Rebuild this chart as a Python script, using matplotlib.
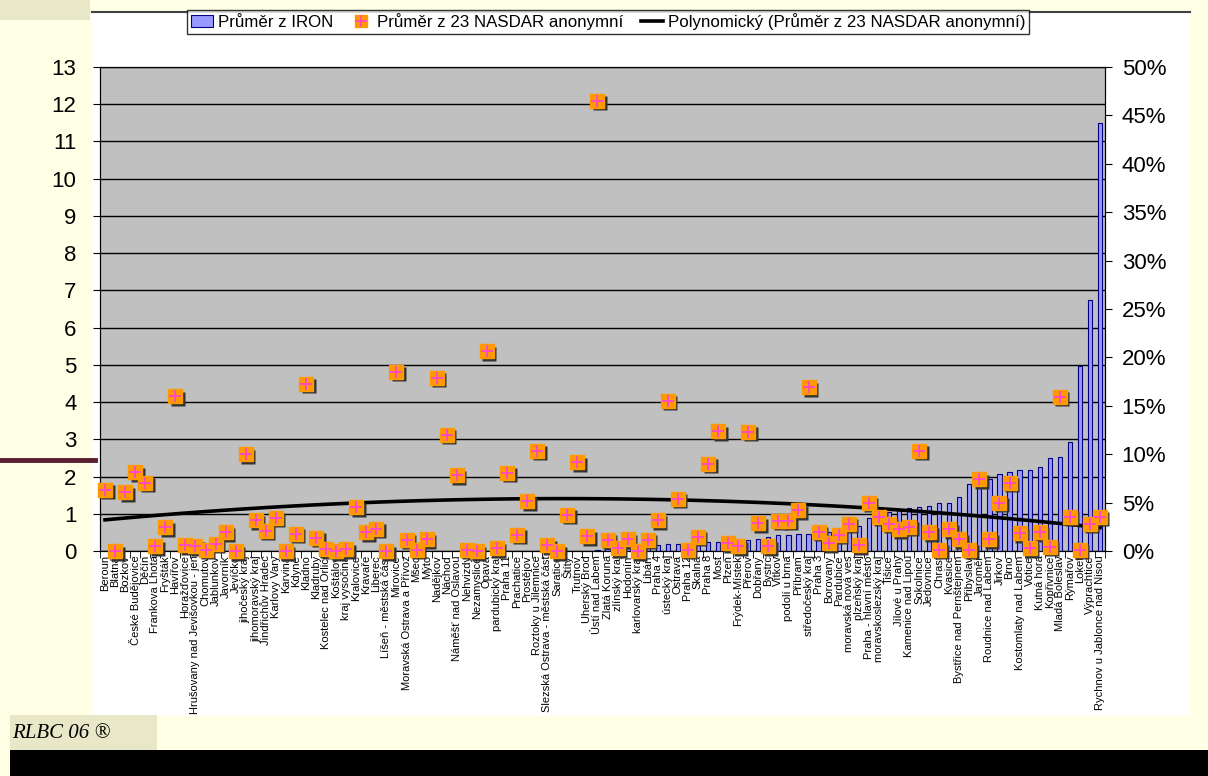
import numpy as np
import matplotlib
matplotlib.use("Agg")
import matplotlib.pyplot as plt
from matplotlib.patches import Patch, Rectangle
from matplotlib.lines import Line2D
from matplotlib.transforms import offset_copy

plt.rcParams['font.family'] = ['Liberation Sans', 'DejaVu Sans']

categories = [
    "Beroun", "Blatná", "Bozkov", "České Budějovice", "Děčín", "Frankova Lhota", "Fryšták", "Havířov",
    "Horažďovice", "Hrušovany nad Jevišovkou - jen", "Chomutov", "Jablunkov", "Javorník", "Jevíčko",
    "jihočeský kraj", "jihomoravský kraj", "Jindřichův Hradec", "Karlovy Vary", "Karviná", "Kdyně",
    "Kladno", "Kladruby", "Kostelec nad Orlicí", "Koštálov", "kraj vysočina", "Kralovice", "Kravaře",
    "Liberec", "Líšeň - městská část", "Mirovice", "Moravská Ostrava a Přívoz", "Mšec", "Mýto",
    "Nadějkov", "Náchod", "Náměšť nad Oslavou", "Nehvizdy", "Nezamyslice", "Opava", "pardubický kraj",
    "Praha 11", "Prachatice", "Prostějov", "Roztoky u Jilemnice", "Slezská Ostrava - městská část",
    "Saratice", "Štíty", "Trutnov", "Uherský Brod", "Ústí nad Labem", "Zlatá Koruna", "zlínský kraj",
    "Hodonín", "karlovarský kraj", "Libáň", "Praha 4", "ústecký kraj", "Ostrava", "Praha 12", "Skalná",
    "Praha 8", "Most", "Plzeň", "Frýdek-Místek", "Přerov", "Dobřany", "Bystrc", "Vítkov",
    "podolí u brna", "Příbram", "středočeský kraj", "Praha 3", "Borovany", "Pardubice",
    "moravská nová ves", "plzeňský kraj", "Praha - hlavní město", "moravskoslezský kraj", "Tišice",
    "Jílové u Prahy", "Kamenice nad Lipou", "Sokolnice", "Jedovnice", "Chrast", "Kvasice",
    "Bystřice nad Pernštejnem", "Přibyslav", "Jaroměř", "Roudnice nad Labem", "Jirkov", "Brno",
    "Kostomlaty nad Labem", "Votice", "Kutná hora", "Kopřivnice", "Mladá Boleslav", "Rýmařov",
    "Loket", "Výprachtice", "Rychnov u Jablonce nad Nisou",
]

# Průměr z 23 NASDAR anonymní (left axis)
nasdar = [
    1.64, 0.0, 1.58, 2.12, 1.83, 0.13, 0.64, 4.16, 0.16, 0.13,
    0.03, 0.19, 0.51, 0.0, 2.6, 0.83, 0.54, 0.89, 0.0, 0.46,
    4.49, 0.35, 0.05, 0.0, 0.05, 1.18, 0.51, 0.6, 0.0, 4.81,
    0.3, 0.03, 0.32, 4.65, 3.12, 2.04, 0.03, 0.0, 5.37, 0.08,
    2.1, 0.43, 1.34, 2.69, 0.16, 0.0, 0.97, 2.39, 0.4, 12.09,
    0.3, 0.08, 0.32, 0.0, 0.3, 0.83, 4.03, 1.4, 0.03, 0.38,
    2.34, 3.22, 0.21, 0.13, 3.2, 0.75, 0.13, 0.81, 0.81, 1.1,
    4.4, 0.52, 0.21, 0.43, 0.73, 0.16, 1.3, 0.92, 0.73, 0.59,
    0.65, 2.69, 0.51, 0.03, 0.59, 0.32, 0.03, 1.93, 0.32, 1.3,
    1.83, 0.48, 0.08, 0.51, 0.12, 4.14, 0.92, 0.03, 0.73, 0.92,
]

# Průměr z IRON (right axis, %)
iron = [0.0] * 49 + [
    0.12, 0.19, 0.23, 0.31, 0.38, 0.46, 0.58, 0.69, 0.77, 0.77,
    0.85, 0.92, 0.96, 1.04, 1.15, 1.15, 1.23, 1.46, 1.62, 1.65,
    1.73, 1.77, 1.81, 1.92, 2.15, 2.31, 2.62, 3.42, 3.73, 4.08,
    4.23, 4.46, 4.58, 4.65, 4.96, 4.96, 5.62, 6.88, 7.31, 7.42,
    7.96, 8.15, 8.38, 8.38, 8.69, 9.62, 9.69, 11.27, 19.1, 25.96,
    44.23,
]

left_ticks = list(range(0, 14))
right_ticks = list(range(0, 55, 5))

W, H = 1208, 776
fig = plt.figure(figsize=(W / 100, H / 100), dpi=100)
fig.patch.set_facecolor('#FFFFE6')

def px_rect(x0, y0, x1, y1, color, z=-10):
    fig.patches.append(Rectangle((x0 / W, 1 - y1 / H), (x1 - x0) / W, (y1 - y0) / H,
                                 transform=fig.transFigure, facecolor=color,
                                 edgecolor='none', zorder=z))

# slide decorations
px_rect(0, 0, 90, 20, '#E8E8C8')
px_rect(92, 12, 1190, 716, 'white')
fig.lines.append(Line2D([92 / W, 1190 / W], [1 - 12 / H, 1 - 12 / H], transform=fig.transFigure,
                        color='#404040', lw=1.5, zorder=-5))
fig.lines.append(Line2D([0, 95 / W], [1 - 460 / H, 1 - 460 / H], transform=fig.transFigure,
                        color='#5A1E30', lw=3.5, zorder=-5))
px_rect(10, 715, 157, 750, '#E8E8C8')
px_rect(10, 750, 1208, 776, 'black')
fig.text(12 / W, 1 - 733 / H, "RLBC 06 ®", fontsize=15, style='italic',
         family=['Liberation Serif', 'DejaVu Serif'], va='center', ha='left', color='black')

x = np.arange(1, len(categories) + 1)

ax = fig.add_axes([100 / W, 1 - 551 / H, 1005 / W, 484 / H])
ax.set_facecolor('#C0C0C0')
ax.set_xlim(0.5, len(categories) + 0.5)
ax.set_ylim(0, 13)
ax.set_yticks(left_ticks)
ax.set_yticklabels([str(t) for t in left_ticks], fontsize=16)
ax.yaxis.grid(True, color='black', lw=1)
ax.set_axisbelow(True)
ax.set_xticks(x)
ax.set_xticklabels(categories, rotation=90, fontsize=8)
ax.tick_params(axis='x', length=0, pad=3)
ax.set_xticks(np.arange(0.5, len(categories) + 1, 1.0), minor=True)
ax.tick_params(axis='x', which='minor', length=5, direction='out', color='black')
ax.tick_params(axis='y', length=5, direction='out', pad=12)
for s in ax.spines.values():
    s.set_color('black')

ax2 = ax.twinx()
ax2.patch.set_visible(False)
ax2.set_ylim(0, 50)
ax2.set_yticks(right_ticks)
ax2.set_yticklabels([f"{t}%" for t in right_ticks], fontsize=16)
ax2.tick_params(axis='y', length=5, direction='out', pad=7)
ax2.bar(x, iron, width=0.42, color='#9999FF', edgecolor='#000080', lw=0.8, zorder=2)
for s in ax2.spines.values():
    s.set_color('black')

ax3 = ax.twinx()
ax3.patch.set_visible(False)
ax3.set_ylim(0, 13)
ax3.set_xlim(0.5, len(categories) + 0.5)
ax3.axis('off')

coef = np.polyfit(x, nasdar, 2)
trend = np.polyval(coef, x)
ax3.plot(x, trend, color='black', lw=2.6, zorder=3)

shadow = offset_copy(ax3.transData, fig=fig, x=2.5, y=-2.5, units='dots')
ax3.plot(x, nasdar, ls='none', marker='s', ms=10, color='#333333', mec='none',
         transform=shadow, zorder=4, clip_on=False)
ax3.plot(x, nasdar, ls='none', marker='s', ms=10, color='#FF9900', mec='#FF9900',
         zorder=5, clip_on=False)
ax3.plot(x, nasdar, ls='none', marker='+', ms=8, mew=1.3, color='#FF44CC',
         zorder=6, clip_on=False)

handles = [
    Patch(facecolor='#9999FF', edgecolor='#000080', lw=0.8),
    (Line2D([], [], ls='none', marker='s', ms=9, color='#FF9900'),
     Line2D([], [], ls='none', marker='+', ms=8, mew=1.2, color='#FF44CC')),
    Line2D([], [], color='black', lw=2.6),
]
labels = ["Průměr z IRON", "Průměr z 23 NASDAR anonymní",
          "Polynomický (Průměr z 23 NASDAR anonymní)"]
leg = fig.legend(handles, labels, ncol=3, loc='upper center', bbox_to_anchor=(608 / W, 1 - 10 / H),
                 fontsize=12.2, frameon=True, fancybox=False, edgecolor='black',
                 handlelength=1.3, handletextpad=0.3, columnspacing=1.0,
                 borderpad=0.2, borderaxespad=0)
leg.get_frame().set_linewidth(1.0)

fig.savefig("out.png", dpi=100, facecolor=fig.get_facecolor())
